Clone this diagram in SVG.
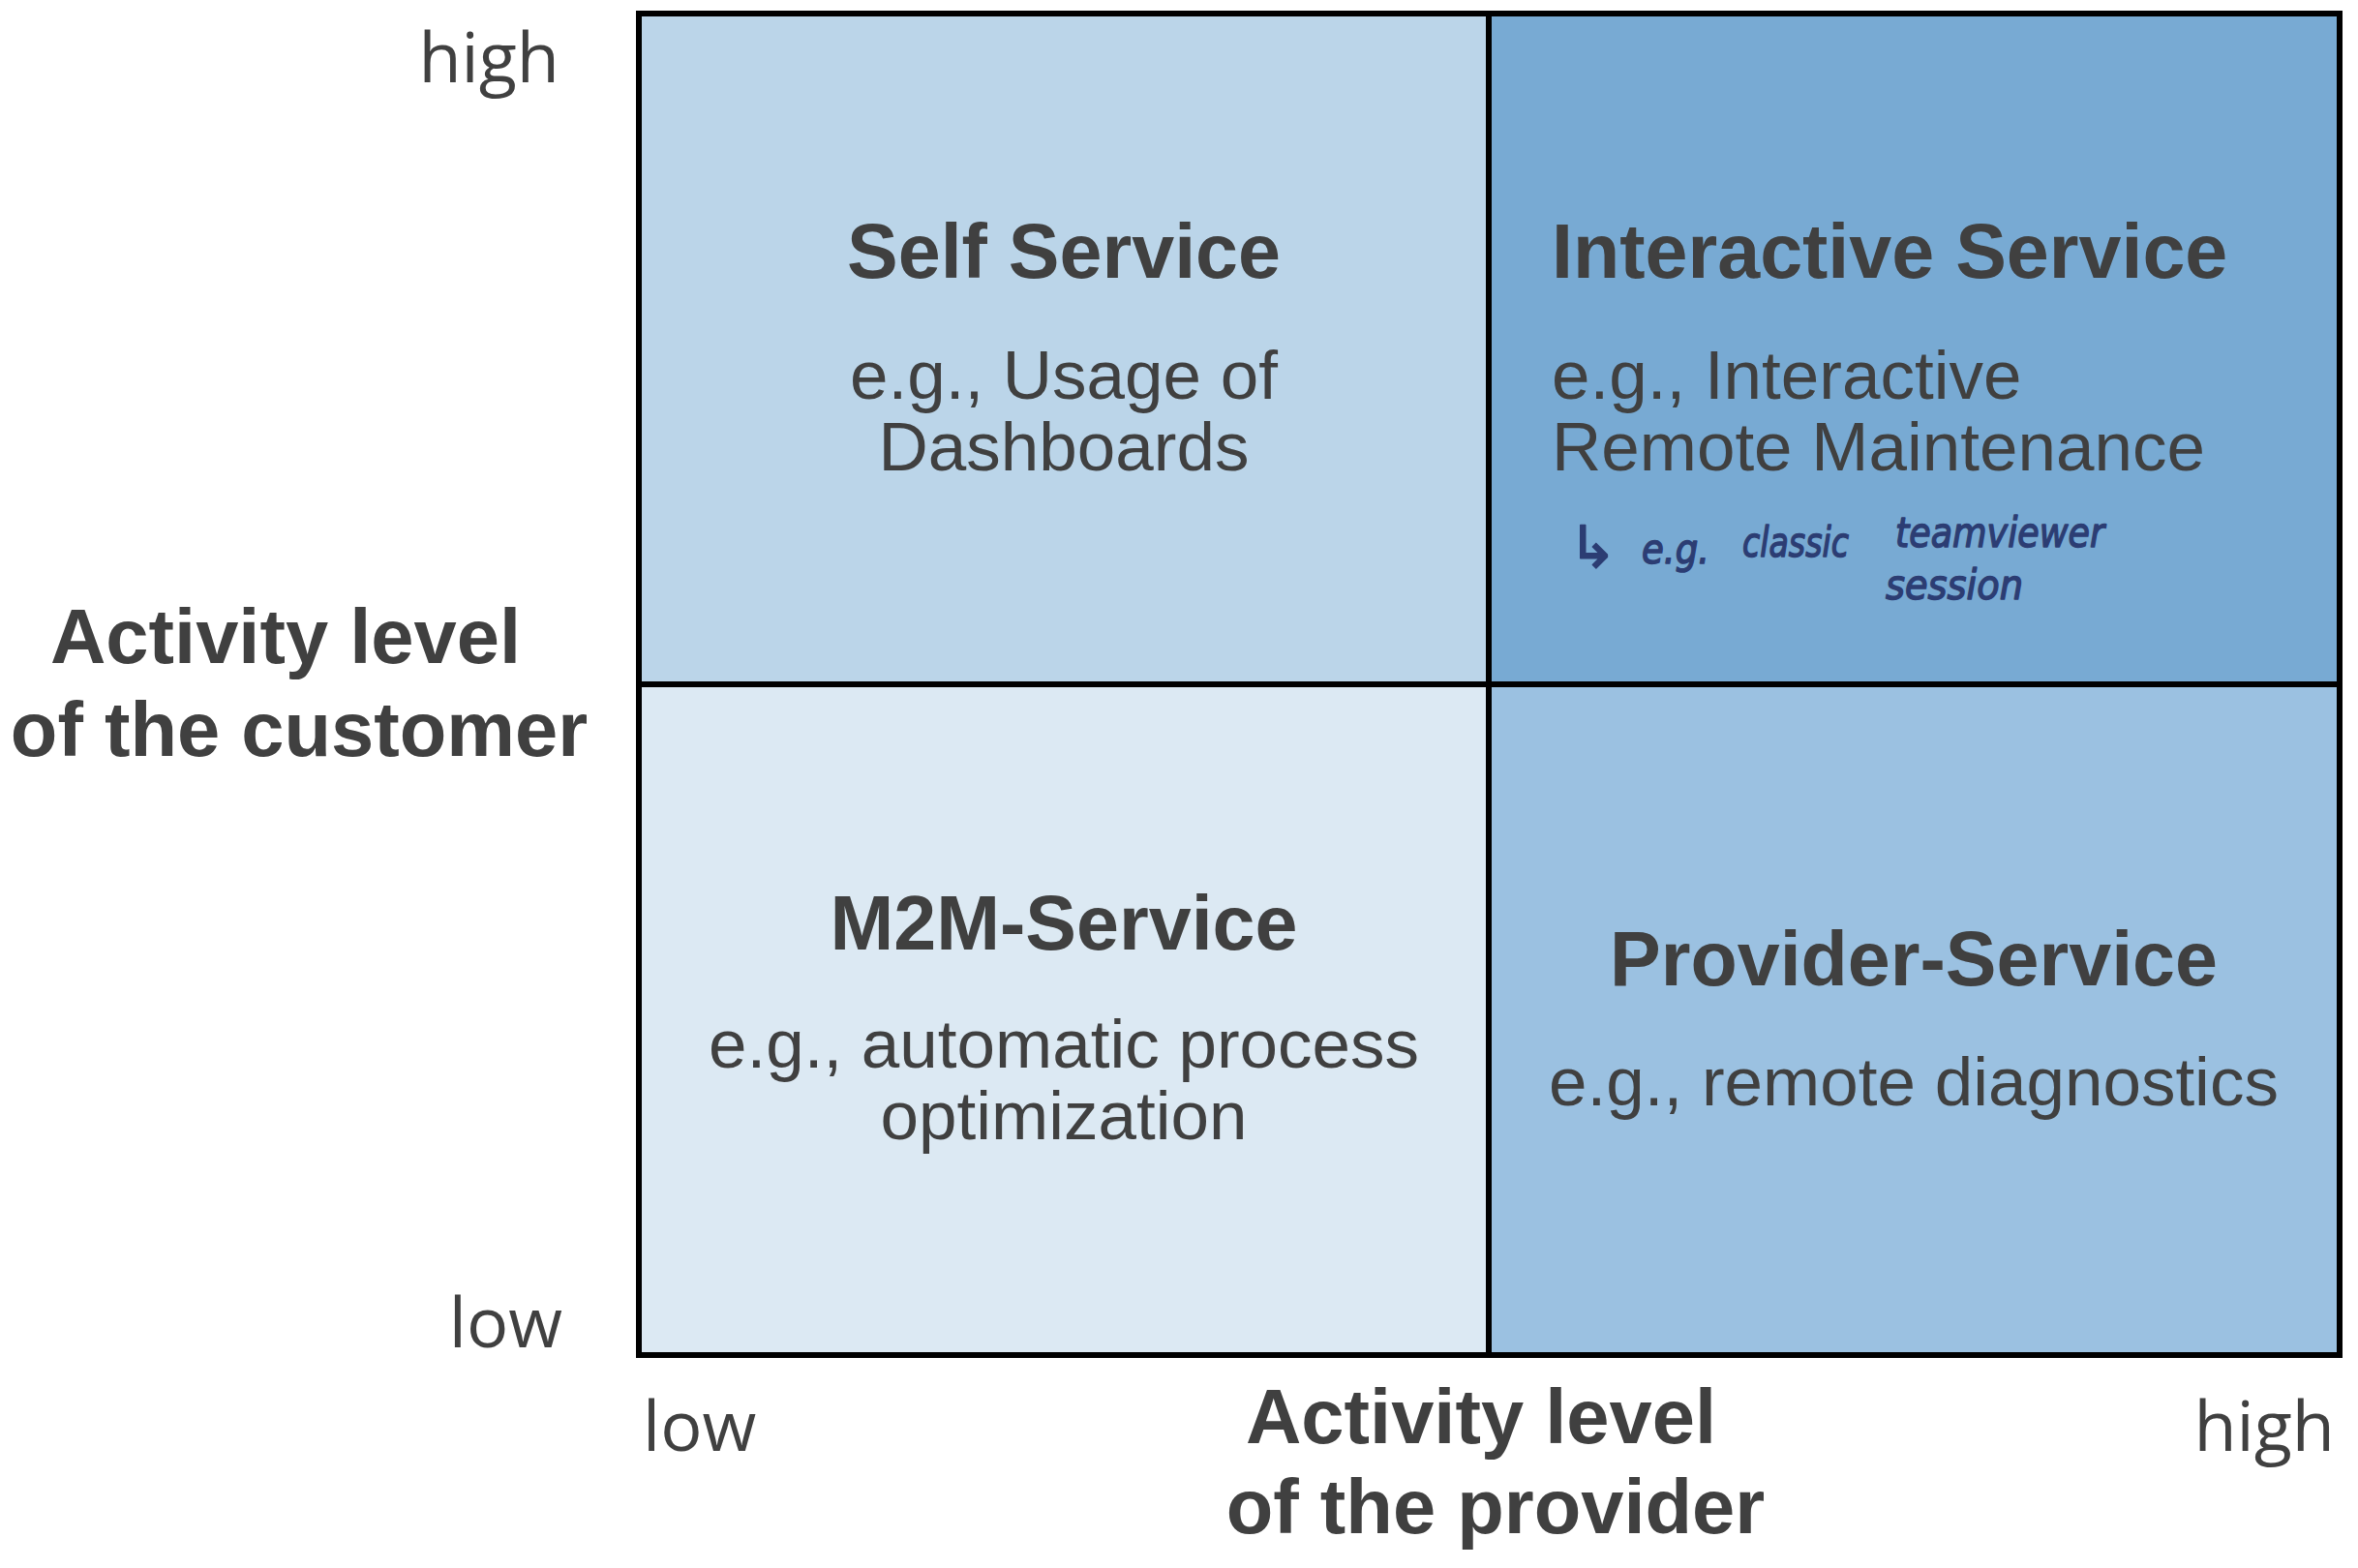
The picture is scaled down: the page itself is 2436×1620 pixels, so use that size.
<svg xmlns="http://www.w3.org/2000/svg" width="2436" height="1620" viewBox="0 0 2436 1620">
<style>
text{font-family:"Liberation Sans",Arial,sans-serif;fill:#404040}
.t{font-weight:bold;font-size:79px}
.b{font-size:71px}
.tk{font-family:"Open Sans","Noto Sans",sans-serif;font-size:72px}
.ax{font-weight:bold;font-size:79.5px;text-anchor:middle}
.m{text-anchor:middle}
.hw{font-family:"DejaVu Sans",sans-serif;font-style:italic;fill:#2c3d73;stroke:#2c3d73;stroke-width:1.5;stroke-linejoin:round;font-size:42px}
.cell{stroke:#000;stroke-width:6}
</style>
<rect width="2436" height="1620" fill="#fff"/>
<g id="self-service">
<rect class="cell" x="660" y="14" width="878" height="693" fill="#bbd5e9"/>
<text class="t m" x="1099" y="287">Self Service</text>
<text class="b m" x="1099" y="412">e.g., Usage of</text>
<text class="b m" x="1099" y="486">Dashboards</text>
</g>
<g id="interactive-service">
<rect class="cell" x="1538" y="14" width="879" height="693" fill="#78aad3"/>
<text class="t" x="1603" y="287">Interactive Service</text>
<text class="b" x="1603" y="412">e.g., Interactive</text>
<text class="b" x="1603" y="486">Remote Maintenance</text>
<text class="hw" x="1620" y="586" style="font-size:60px;font-style:normal">↳</text>
<text class="hw" x="1696" y="582" textLength="70" lengthAdjust="spacingAndGlyphs">e.g.</text>
<text class="hw" x="1800" y="575" textLength="110" lengthAdjust="spacingAndGlyphs">classic</text>
<text class="hw" x="1958" y="565" textLength="216" lengthAdjust="spacingAndGlyphs">teamviewer</text>
<text class="hw" x="1948" y="619" textLength="142" lengthAdjust="spacingAndGlyphs">session</text>
</g>
<g id="m2m-service">
<rect class="cell" x="660" y="707" width="878" height="693" fill="#dce9f3"/>
<text class="t m" x="1099" y="981">M2M-Service</text>
<text class="b m" x="1099" y="1103">e.g., automatic process</text>
<text class="b m" x="1099" y="1177">optimization</text>
</g>
<g id="provider-service">
<rect class="cell" x="1538" y="707" width="879" height="693" fill="#9bc1e1"/>
<text class="t m" x="1977" y="1018">Provider-Service</text>
<text class="b m" x="1977" y="1142">e.g., remote diagnostics</text>
</g>
<g id="connectors"></g>
<g id="axis-y">
<text class="tk" x="578" y="85" text-anchor="end">high</text>
<text class="tk" x="581" y="1392" text-anchor="end">low</text>
<text class="ax" x="295" y="685">Activity level</text>
<text class="ax" x="309" y="781">of the customer</text>
</g>
<g id="axis-x">
<text class="tk" x="664" y="1499">low</text>
<text class="tk" x="2412" y="1499" text-anchor="end">high</text>
<text class="ax" x="1530" y="1491">Activity level</text>
<text class="ax" x="1545" y="1584">of the provider</text>
</g>
</svg>
